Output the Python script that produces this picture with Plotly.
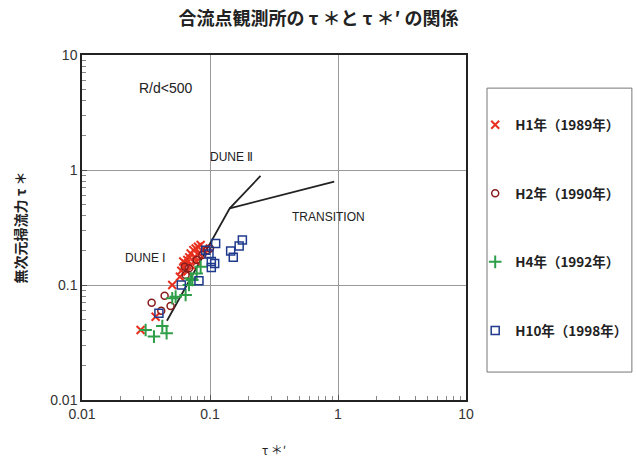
import math
import plotly.graph_objects as go

# H1 (1989) red X
h1_x = [0.0287, 0.0507, 0.0376, 0.0582, 0.0597, 0.0626, 0.0645, 0.0665, 0.0689, 0.0706, 0.0741,
        0.0773, 0.0806, 0.0845, 0.0887, 0.0759, 0.0820, 0.0665, 0.0706, 0.0618, 0.0787]
h1_y = [0.0406, 0.100, 0.0530, 0.118, 0.133, 0.144, 0.154, 0.165, 0.174, 0.188, 0.201,
        0.208, 0.215, 0.223, 0.208, 0.176, 0.188, 0.131, 0.149, 0.160, 0.160]
# H2 (1990) dark red circles
h2_x = [0.0350, 0.0442, 0.0492, 0.0416, 0.0645, 0.0634, 0.0787, 0.0871, 0.0953, 0.1000, 0.0685]
h2_y = [0.0702, 0.0808, 0.0657, 0.0598, 0.122, 0.144, 0.165, 0.182, 0.201, 0.208, 0.140]
# H4 (1992) green plus
h4_x = [0.0314, 0.0365, 0.0424, 0.0458, 0.0539, 0.0645, 0.0685, 0.0728, 0.0787, 0.0845, 0.0706, 0.0507]
h4_y = [0.0406, 0.0356, 0.0440, 0.0380, 0.0792, 0.0818, 0.100, 0.1105, 0.126, 0.144, 0.114, 0.0766]
# H10 (1998) blue squares
h10_x = [0.0399, 0.0597, 0.0820, 0.1107, 0.0982, 0.1024, 0.1088, 0.1024, 0.145, 0.152, 0.169, 0.179, 0.0925]
h10_y = [0.0567, 0.100, 0.109, 0.230, 0.186, 0.160, 0.154, 0.142, 0.198, 0.174, 0.218, 0.246, 0.201]

# regime boundary lines
dune1_x = [0.0461, 0.1426, 0.248]
dune1_y = [0.0489, 0.4645, 0.887]
trans_x = [0.1426, 0.934]
trans_y = [0.4645, 0.791]

series_names = ["H1年（1989年）", "H2年（1990年）", "H4年（1992年）", "H10年（1998年）"]
tick_vals = [0.01, 0.1, 1, 10]
tick_text = ["0.01", "0.1", "1", "10"]
minor_vals = [m * d for d in (0.01, 0.1, 1) for m in range(2, 10)]

labels = [
    ("R/d<500", 0.045, 5.16, 14),
    ("DUNE Ⅱ", 0.148, 1.30, 12),
    ("DUNE Ⅰ", 0.0314, 0.172, 12),
    ("TRANSITION", 0.85, 0.39, 12),
]

fig = go.Figure()

fig.add_trace(go.Scatter(x=dune1_x, y=dune1_y, mode="lines", line=dict(color="#222", width=1.8),
                         showlegend=False, hoverinfo="skip"))
fig.add_trace(go.Scatter(x=trans_x, y=trans_y, mode="lines", line=dict(color="#222", width=1.8),
                         showlegend=False, hoverinfo="skip"))

styles = [
    (h1_x, h1_y, "x-thin-open", "#e8301f", 8),
    (h2_x, h2_y, "circle-open", "#8a1c1c", 7),
    (h4_x, h4_y, "cross-thin-open", "#2e9e48", 9),
    (h10_x, h10_y, "square-open", "#1f3a8c", 8),
]
for i, (xs, ys, sym, col, sz) in enumerate(styles):
    fig.add_trace(go.Scatter(
        x=xs, y=ys, mode="markers", name=series_names[i], legendgroup=f"g{i}",
        marker=dict(symbol=sym, color=col, size=sz, line=dict(color=col, width=2 if "thin" in sym else 1.5)),
    ))

for txt, x, y, sz in labels:
    fig.add_annotation(x=math.log10(x), y=math.log10(y), xref="x", yref="y", text=txt, showarrow=False,
                       font=dict(family="Liberation Sans, Arial", size=sz, color="#222"))

axis_common = dict(
    type="log", range=[-2, 1], tickvals=tick_vals, ticktext=tick_text,
    showgrid=True, gridcolor="#999", gridwidth=1,
    showline=True, linecolor="#222", linewidth=1.5, mirror=True,
    ticks="inside", ticklen=5, tickcolor="#555",
    minor=dict(ticks="inside", ticklen=4, tickcolor="#888", tickvals=minor_vals, showgrid=False),
    tickfont=dict(family="Liberation Sans, Arial", size=14, color="#333"),
    zeroline=False, automargin=False,
)

fig.update_layout(
    width=637, height=460,
    margin=dict(l=82, r=171, t=55, b=60),
    paper_bgcolor="white", plot_bgcolor="white",
    title=dict(text="<b>合流点観測所の τ ＊と τ ＊′ の関係</b>", x=0.5, xanchor="center", y=0.959, yanchor="middle",
               font=dict(family="Noto Sans CJK JP", size=18, color="#222")),
    xaxis=dict(axis_common, title=dict(text="τ ＊′", font=dict(family="Noto Sans CJK JP", size=12, color="#222"), standoff=26)),
    yaxis=dict(axis_common, title=dict(text="<b>無次元掃流力 τ ＊</b>", font=dict(family="Noto Sans CJK JP", size=14, color="#222"), standoff=20)),
    legend=dict(xref="container", yref="container", x=0.746, xanchor="left", y=0.762, yanchor="top",
                traceorder="grouped", tracegroupgap=48, maxheight=1,
                bgcolor="rgba(0,0,0,0)", borderwidth=0,
                font=dict(family="Noto Sans CJK JP", size=13.5, color="#222", weight="bold")),
    shapes=[dict(type="rect", xref="paper", yref="paper", x0=1.0547, x1=1.432, y0=0.081, y1=0.904,
                 line=dict(color="#777", width=1), fillcolor="rgba(0,0,0,0)")],
)

fig.write_html("out.html", config={"displayModeBar": False},
               post_script="document.body.style.margin='0px';document.body.style.overflow='hidden';")
